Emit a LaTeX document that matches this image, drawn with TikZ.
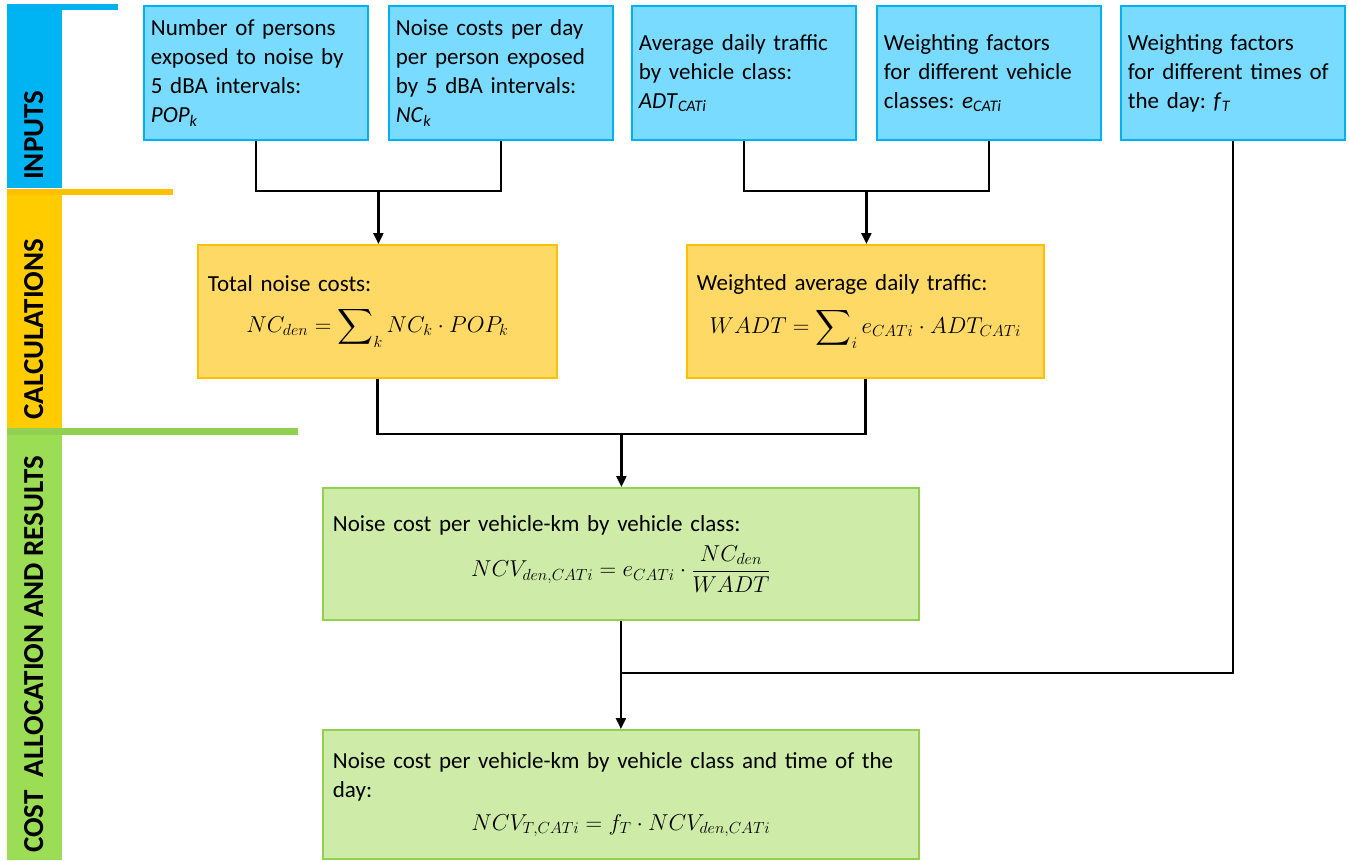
\RequirePackage{fix-cm}
\documentclass[tikz,border=0pt]{standalone}
\usepackage{amsmath}
\usepackage{fontspec}
\setmainfont{Carlito}
\frenchspacing
\usetikzlibrary{arrows.meta,calc}
\definecolor{inFill}{RGB}{121,219,255}
\definecolor{inLine}{RGB}{0,176,240}
\definecolor{calFill}{RGB}{255,217,102}
\definecolor{calLine}{RGB}{255,192,0}
\definecolor{calBar}{RGB}{255,204,0}
\definecolor{grFill}{RGB}{206,236,168}
\definecolor{grLine}{RGB}{146,208,80}
\definecolor{grBar}{RGB}{155,222,85}
\definecolor{blBar}{RGB}{0,180,243}
\newcommand{\cformula}[1]{\hspace*{\fill}$\displaystyle #1$\hspace*{\fill}\null}
\begin{document}
\begin{tikzpicture}[x=1pt,y=-1pt,
  boxbase/.style={line width=1.8pt, anchor=north west, align=left, inner xsep=10pt, inner ysep=0pt,
    font=\fontsize{23}{29}\selectfont},
  inbox/.style={boxbase, inner xsep=7pt, draw=inLine, fill=inFill, text width=210pt, minimum height=134pt},
  calbox/.style={boxbase, draw=calLine, fill=calFill, minimum height=133pt},
  grbox/.style={boxbase, draw=grLine, fill=grFill},
  conn/.style={line width=2.2pt, black},
  arr/.style={conn, -{Triangle[length=11pt,width=10pt]}},
  sidelabel/.style={rotate=90, anchor=base west, inner sep=0pt, font=\fontsize{29}{32}\selectfont\bfseries}
]
\useasboundingbox (0,0) rectangle (1349,861);

% side bars
\fill[blBar] (7,4) rectangle (62,188);
\fill[inLine] (7,4) rectangle (118,10);
\fill[calBar] (7,189) rectangle (62,428);
\fill[calLine] (7,189) rectangle (173,195);
\fill[grBar] (7,428) rectangle (62,860);
\fill[grLine] (7,428) rectangle (298,435);
\node[sidelabel] (lin) at (43,180) {INPUTS};
\node[sidelabel] (lcal) at (43,420) {CALCULATIONS};
\node[sidelabel] (lres) at (43,853) {COST\ \ ALLOCATION AND RESULTS};

% input boxes
\node[inbox] (b1) at (143,5) {Number of persons\\exposed to noise by\\5 dBA intervals:\\\textit{POP}\textsubscript{\textit{k}}};
\node[inbox] (b2) at (388,5) {Noise costs per day\\per person exposed\\by 5 dBA intervals:\\\textit{NC}\textsubscript{\textit{k}}};
\node[inbox] (b3) at (631,5) {Average daily traffic\\by vehicle class:\\\textit{ADT}\textsubscript{\textit{CATi}}};
\node[inbox] (b4) at (876,5) {Weighting factors\\for different vehicle\\classes: \textit{e}\textsubscript{\textit{CATi}}};
\node[inbox] (b5) at (1120,5) {Weighting factors\\for different times of\\the day: \textit{f}\textsubscript{\textit{T}}};

% calculation boxes
\node[calbox, text width=339pt] (c1) at (197,244) {Total noise costs:\\[12pt]
  \cformula{NC_{den} = \sum\nolimits_k NC_k \cdot POP_k}};
\node[calbox, text width=337pt] (c2) at (686,244) {Weighted average daily traffic:\\[12pt]
  \cformula{WADT = \sum\nolimits_i e_{CATi} \cdot ADT_{CATi}}};

% result boxes
\node[grbox, text width=576pt, minimum height=132pt] (g1) at (322,487) {Noise cost per vehicle-km by vehicle class:\\[10pt]
  \cformula{NCV_{den,CATi} = e_{CATi}\cdot\frac{NC_{den}}{WADT}}};
\node[grbox, text width=576pt, minimum height=129pt] (g2) at (322,729) {Noise cost per vehicle-km by vehicle class and time of the\\day:\\[4pt]
  \cformula{NCV_{T,CATi} = f_T\cdot NCV_{den,CATi}}};

% connectors
\draw[conn] (b1.south) -- ++(0,50) -| (b2.south);
\coordinate (m1) at ($(b1.south)!0.5!(b2.south)+(0,50)$);
\draw[arr] (m1) -- (m1 |- c1.north);
\draw[conn] (b3.south) -- ++(0,50) -| (b4.south);
\coordinate (m2) at ($(b3.south)!0.5!(b4.south)+(0,50)$);
\draw[arr] (m2) -- (m2 |- c2.north);
\draw[conn] (c1.south) -- ++(0,55) -| (c2.south);
\coordinate (m3) at ($(c1.south)!0.5!(c2.south)+(0,55)$);
\draw[arr] (m3) -- (m3 |- g1.north);
\draw[arr] (g1.south) -- (g2.north);
\draw[conn] (b5.south) |- ($(g1.south)+(0,52)$);
\end{tikzpicture}
\end{document}
